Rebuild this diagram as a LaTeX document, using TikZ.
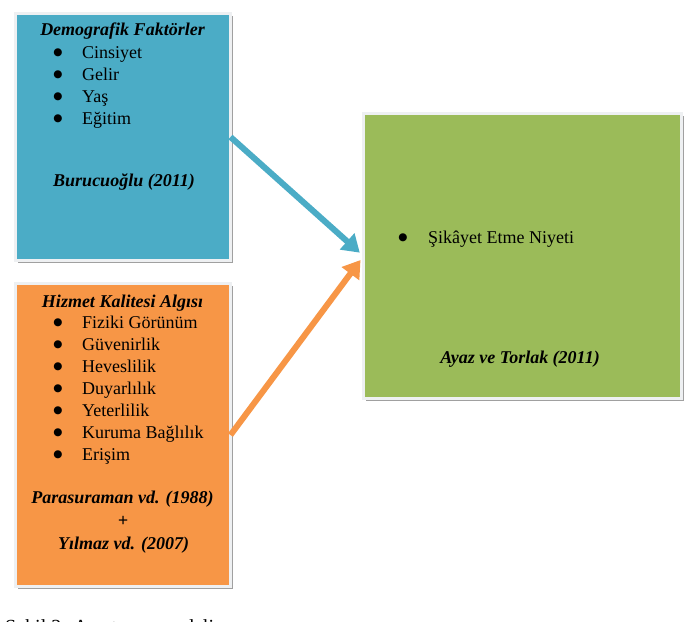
\documentclass[tikz,border=0pt]{standalone}
\usepackage{fontspec}
\setmainfont{Liberation Serif}
\newfontfamily\symfont{DejaVu Sans}
\usetikzlibrary{arrows.meta,shadows}
\definecolor{cblue}{HTML}{4BACC6}
\definecolor{corange}{HTML}{F79646}
\definecolor{cgreen}{HTML}{9BBB59}
\definecolor{cframe}{HTML}{EEF0F2}
\definecolor{cshadow}{HTML}{A0A0A0}
\begin{document}
\begin{tikzpicture}[x=1pt,y=-1pt,
  box/.style={draw=cframe,line width=3pt,inner sep=0pt,outer sep=0pt,
    drop shadow={shadow xshift=2.5pt,shadow yshift=-2.5pt,fill=cshadow,opacity=1}},
  txt/.style={inner sep=0pt,font=\fontsize{18}{22}\selectfont},
  ttl/.style={txt,font=\fontsize{18}{22}\selectfont\bfseries\itshape},
  bul/.style={inner sep=0pt,font=\symfont\fontsize{10.5}{11}\selectfont,anchor=base},
  conn/.style={line width=6pt,-{Triangle[width=21pt,length=17pt]},shorten >=5pt}]
\useasboundingbox (0,0) rectangle (692,621);
\clip (0,0) rectangle (692,621);
\fill[white] (0,0) rectangle (692,621);
% boxes
\node[box,fill=cblue,minimum width=215pt,minimum height=247pt] (demo) at (123,137) {};
\node[box,fill=corange,minimum width=215pt,minimum height=303pt] (hiz) at (123,435) {};
\node[box,fill=cgreen,minimum width=318pt,minimum height=285pt] (sik) at (522.5,256) {};
% blue box text
\node[ttl,anchor=base] (t1) at (122.5,35) {Demografik Faktörler};
\foreach \n/\y/\s in {a/58/Cinsiyet,b/80/Gelir,c/102/Yaş,d/124/Eğitim}{
  \node[bul] (db\n) at (58,\y-2.5) {●};
  \node[txt,anchor=base west] (dt\n) at (82,\y) {\s};
}
\node[ttl,anchor=base] (r1) at (124,186) {Burucuoğlu (2011)};
% orange box text
\node[ttl,anchor=base] (t2) at (122.5,307) {Hizmet Kalitesi Algısı};
\foreach \n/\y/\s in {a/328/Fiziki Görünüm,b/350/Güvenirlik,c/372/Heveslilik,d/394/Duyarlılık,e/416/Yeterlilik,f/438/Kuruma Bağlılık,g/460/Erişim}{
  \node[bul] (hb\n) at (58,\y-2.5) {●};
  \node[txt,anchor=base west] (ht\n) at (82,\y) {\s};
}
\node[ttl,anchor=base] (r2) at (122.5,503) {Parasuraman vd. (1988)};
\node[ttl,anchor=base] (r3) at (123,526) {+};
\node[ttl,anchor=base] (r4) at (123.5,549) {Yılmaz vd. (2007)};
% green box text
\node[bul] (sb) at (403,240.5) {●};
\node[txt,anchor=base west] (st) at (428,243) {Şikâyet Etme Niyeti};
\node[ttl,anchor=base] (r5) at (520,363) {Ayaz ve Torlak (2011)};
% arrows
\draw[conn,cblue] (demo.east) -- (sik.west);
\draw[conn,corange] (hiz.east) -- (sik.west);
% caption (cut off by page edge, as in the reference)
\node[inner sep=0pt,font=\fontsize{20}{24}\selectfont,anchor=base west] (cap) at (5,633) {Şekil 2: Araştırma modeli};
\end{tikzpicture}
\end{document}
